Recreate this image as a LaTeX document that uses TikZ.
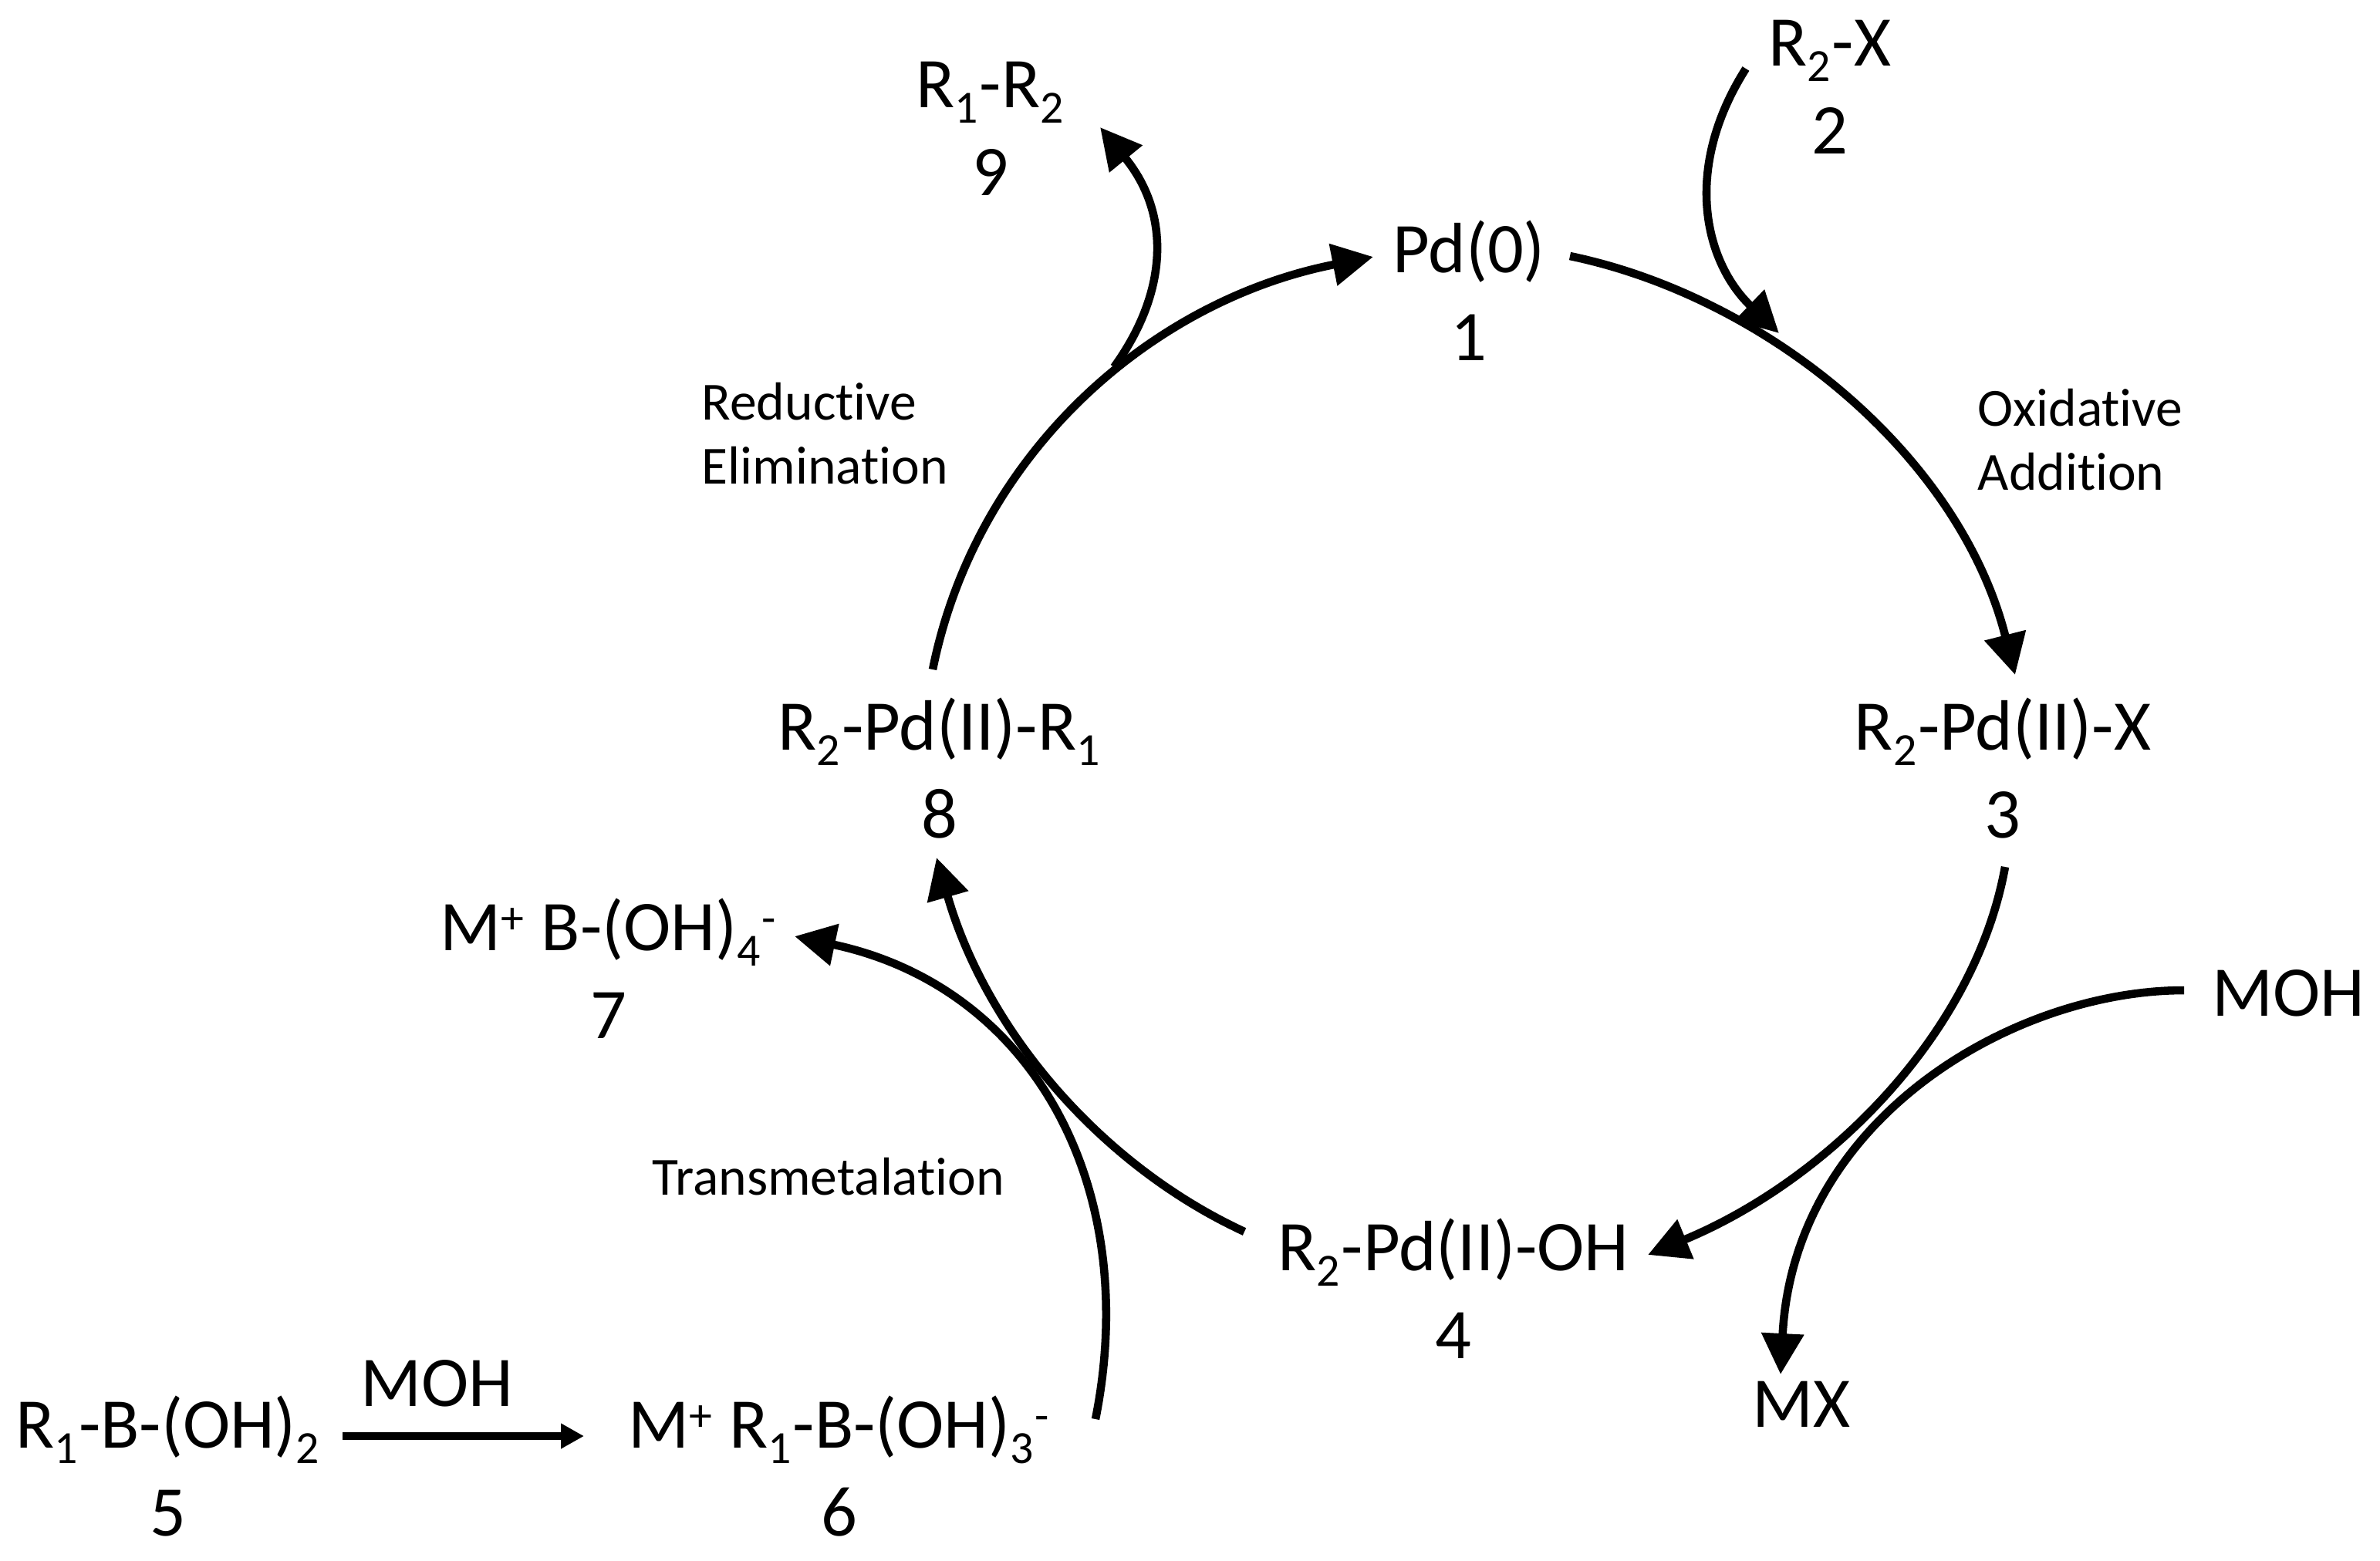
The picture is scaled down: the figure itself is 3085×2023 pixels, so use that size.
\documentclass[tikz,border=0pt]{standalone}
\usepackage{fontspec}
\setmainfont[Ligatures=NoCommon]{Carlito}
\usetikzlibrary{arrows.meta}
\tikzset{
  chem/.style={align=center, inner sep=0pt, font=\fontsize{26.3}{32.3}\selectfont},
  stepname/.style={align=left, inner sep=0pt, font=\fontsize{19.8}{23.7}\selectfont},
  flow/.style={-{Triangle[length=5.3mm, width=5.3mm]}, line width=3pt},
  flowthin/.style={-{Triangle[length=3mm, width=3.1mm]}, line width=3pt},
}
\newcommand{\lo}[1]{\raisebox{-5.5pt}[0pt][0pt]{\fontsize{17}{17}\selectfont #1}\kern0.5pt\relax}
\newcommand{\hi}[1]{\raisebox{6.5pt}[0pt][0pt]{\fontsize{17}{17}\selectfont #1}\kern0.5pt\relax}
\newcommand{\twolines}[2]{\strut #1\\\strut #2}
\begin{document}
\begin{tikzpicture}[x=0.1mm, y=-0.1mm]
\useasboundingbox (0,0) rectangle (3085,2023);

%% ── the species ───────────────────────────────────────────────────────────
\node[chem] (pd)    at (1904,388)  {\twolines{Pd(0)}{1}};
\node[chem] (rx)    at (2372,120)  {\twolines{R\lo{2}-X}{2}};
\node[chem] (rpx)   at (2596,1007) {\twolines{R\lo{2}-Pd(II)-X}{3}};
\node[chem] (rpoh)  at (1884,1682) {\twolines{R\lo{2}-Pd(II)-OH}{4}};
\node[chem] (rboh)  at (218,1912)  {\twolines{R\lo{1}-B-(OH)\lo{2}}{5}};
\node[chem] (mboh)  at (1088,1912) {\twolines{M\hi{+} R\lo{1}-B-(OH)\lo{3}\hi{-}}{6}};
\node[chem] (mbor)  at (789,1267)  {\twolines{M\hi{+} B-(OH)\lo{4}\hi{-}}{7}};
\node[chem] (rpr)   at (1218,1007) {\twolines{R\lo{2}-Pd(II)-R\lo{1}}{8}};
\node[chem] (rr)    at (1284,174)  {\twolines{R\lo{1}-R\lo{2}}{9}};
\node[chem] (mohb)  at (2966,1288) {MOH};
\node[chem] (mx)    at (2335,1821) {MX};
\node[chem] (mohl)  at (566,1794)  {MOH};

%% ── the step names ────────────────────────────────────────────────────────
\node[stepname, anchor=west] (oxad)  at (2563,570) {Oxidative\\Addition};
\node[stepname, anchor=west] (redel) at (909,562)  {Reductive\\Elimination};
\node[stepname] (trans) at (1074,1526) {Transmetalation};

%% ── where side arrows touch the cycle ─────────────────────────────────────
\coordinate (joinrx) at (2306,432);
\coordinate (joinrr) at (1444,476);

%% ── the cycle ─────────────────────────────────────────────────────────────
\draw[flow] ([shift={(131,-56)}]pd.center)
  .. controls (2290,385) and (2540,590) .. ([shift={(16,-132)}]rpx.center);
\draw[flow] ([shift={(3,117)}]rpx.center)
  .. controls (2560,1340) and (2370,1530) .. ([shift={(252,-55)}]rpoh.center);
\draw[flow] ([shift={(-271,-85)}]rpoh.center)
  .. controls (1425,1510) and (1278,1335) .. ([shift={(-4,105)}]rpr.center);
\draw[flow] ([shift={(-9,-139)}]rpr.center)
  .. controls (1265,590) and (1490,390) .. ([shift={(-124,-55)}]pd.center);

%% ── side arrows ───────────────────────────────────────────────────────────
\draw[flow] ([shift={(-109,-31)}]rx.center)
  .. controls (2180,220) and (2210,340) .. (joinrx);
\draw[flow] (joinrr)
  .. controls (1512,382) and (1520,280) .. ([shift={(142,-9)}]rr.center);
\draw[flow] ([shift={(-135,-4)}]mohb.center)
  .. controls (2610,1284) and (2325,1450) .. ([shift={(-27,-39)}]mx.center);
\draw[flow] ([shift={(332,-72)}]mboh.center)
  .. controls (1480,1540) and (1340,1280) .. ([shift={(241,-53)}]mbor.center);
\draw[flowthin] ([shift={(226,-50)}]rboh.center) -- ([shift={(-331,-50)}]mboh.center);

\end{tikzpicture}
\end{document}
